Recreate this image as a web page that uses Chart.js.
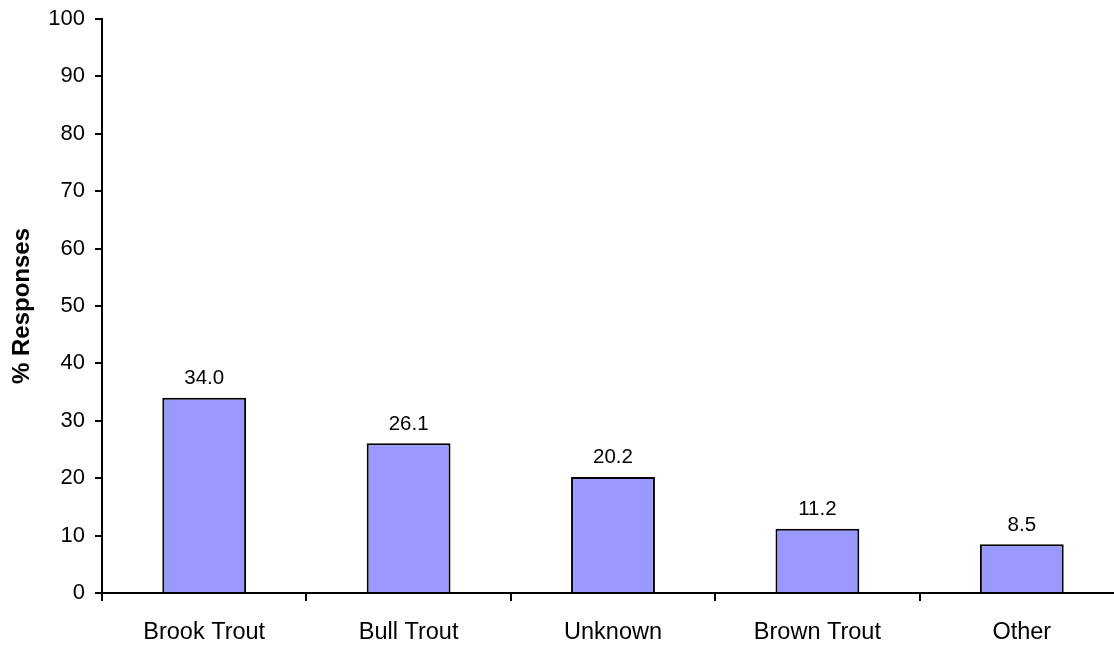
<!DOCTYPE html>
<html lang="en">
<head>
  <meta charset="UTF-8">
  <title>% Responses</title>
  <script src="https://cdn.jsdelivr.net/npm/chart.js"></script>
  <style>
    body {
      margin: 0;
      background: #fff;
      overflow: hidden;
    }
    canvas {
      display: block;
    }
  </style>
</head>
<body>
  <canvas id="chart" width="1130" height="646"></canvas>

  <script>
    const categories = ['Brook Trout', 'Bull Trout', 'Unknown', 'Brown Trout', 'Other'];
    const responses = [34.0, 26.1, 20.2, 11.2, 8.5];
    const yTicks = [0, 10, 20, 30, 40, 50, 60, 70, 80, 90, 100];

    const fontFamily = "'Liberation Sans', Arial, sans-serif";

    // value labels above each bar
    const valueLabels = {
      id: 'valueLabels',
      afterDatasetsDraw(chart) {
        const ctx = chart.ctx;
        const meta = chart.getDatasetMeta(0);
        ctx.save();
        ctx.font = '20.5px ' + fontFamily;
        ctx.fillStyle = '#000';
        ctx.textAlign = 'center';
        ctx.textBaseline = 'bottom';
        meta.data.forEach((bar, i) => {
          ctx.fillText(responses[i].toFixed(1), bar.x, bar.y - 9);
        });
        ctx.restore();
      }
    };

    new Chart(document.getElementById('chart'), {
      type: 'bar',
      data: {
        labels: categories,
        datasets: [{
          data: responses,
          backgroundColor: '#9999FF',
          borderColor: '#000',
          borderWidth: 2,
          barPercentage: 0.41,
          categoryPercentage: 1
        }]
      },
      options: {
        responsive: false,
        animation: false,
        layout: { padding: { top: 19, right: 6, bottom: 0, left: 0 } },
        plugins: {
          legend: { display: false },
          tooltip: { enabled: false }
        },
        scales: {
          x: {
            afterFit: (scale) => { scale.height = 53; },
            border: { color: '#000', width: 2 },
            grid: {
              offset: true,
              drawOnChartArea: false,
              color: '#000',
              lineWidth: 2,
              tickLength: 8
            },
            ticks: {
              color: '#000',
              padding: 17,
              font: { size: 23.5, family: fontFamily }
            }
          },
          y: {
            min: 0,
            max: 100,
            afterFit: (scale) => {
              scale.width = 102;
              scale.paddingTop = 0;
              scale.paddingBottom = 0;
            },
            afterBuildTicks: (scale) => { scale.ticks = yTicks.map(v => ({ value: v })); },
            border: { color: '#000', width: 2 },
            grid: {
              drawOnChartArea: false,
              color: '#000',
              lineWidth: 2,
              tickLength: 7
            },
            ticks: {
              color: '#000',
              padding: 10,
              font: { size: 22, family: fontFamily }
            },
            title: {
              display: true,
              text: '% Responses',
              color: '#000',
              padding: { top: 8, bottom: 0 },
              font: { size: 24, weight: 'bold', family: fontFamily }
            }
          }
        }
      },
      plugins: [valueLabels]
    });
  </script>
</body>
</html>
